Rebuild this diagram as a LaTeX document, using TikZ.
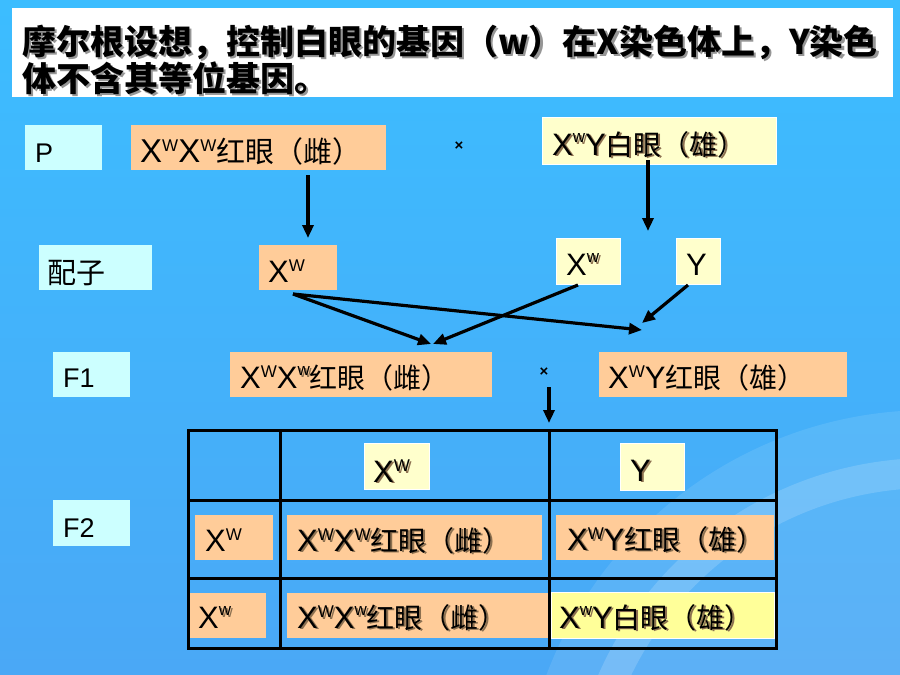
\documentclass[tikz,border=0pt]{standalone}
\usepackage{fontspec}
\setmainfont{Liberation Sans}
\newfontfamily\cjk{Noto Sans CJK SC}
\usetikzlibrary{arrows.meta,calc}
\definecolor{peach}{HTML}{FFCC99}
\definecolor{lcyan}{HTML}{CCFFFF}
\definecolor{lyel}{HTML}{FFFFCC}
\definecolor{byel}{HTML}{FFFF99}
\definecolor{bgtop}{RGB}{60,189,255}
\definecolor{bgbot}{RGB}{74,168,246}
\definecolor{shdc}{RGB}{140,112,80}
\definecolor{tshdc}{RGB}{150,150,150}
\newcommand\supU[1]{\raisebox{0.33em}{\fontsize{17}{17}\selectfont #1}}
\newcommand\supL[1]{\raisebox{0.40em}{\fontsize{17}{17}\selectfont #1}}
\newcommand\shd[1]{\makebox[0pt][l]{\hspace{1.8pt}\raisebox{-1.8pt}{\color{shdc}#1}}#1}
\newcommand\tshd[1]{\makebox[0pt][l]{\hspace{2.5pt}\raisebox{-2.5pt}{\color{tshdc}#1}}#1}
\newcommand\cj[1]{{\cjk\fontsize{28}{30}\selectfont #1}}
\tikzset{
  bx/.style={anchor=north west, inner sep=0pt},
  lbl/.style={anchor=base west, inner sep=0pt, font=\fontsize{31}{34}\selectfont},
  side/.style={anchor=base west, inner sep=0pt, font=\fontsize{27}{30}\selectfont},
  ttl/.style={anchor=base west, inner sep=0pt, font=\cjk\bfseries\fontsize{34}{37}\selectfont},
  arr/.style={line width=3.2pt, -{Triangle[length=13pt,width=11pt]}},
  tbl/.style={line width=3pt},
  cross/.style={inner sep=0pt, font=\bfseries\fontsize{15}{15}\selectfont}
}
\begin{document}
\begin{tikzpicture}[x=1pt,y=-1pt]
\useasboundingbox (0,0) rectangle (900,675);
\fill[top color=bgtop,bottom color=bgbot] (0,0) rectangle (900,675);
\begin{scope}
\clip (0,0) rectangle (900,675);
\fill[white,opacity=0.10] (930,820) circle [radius=410];
\fill[white,opacity=0.16,even odd rule] (930,820) circle [radius=362] (930,820) circle [radius=332];
\end{scope}
% title
\node[bx,fill=white,minimum width=881,minimum height=89] (titlebox) at (12,8) {};
\node[ttl] (t1) at (22,54) {\tshd{摩尔根设想，控制白眼的基因（w）在X染色体上，Y染色}};
\node[ttl] (t2) at (22,91) {\tshd{体不含其等位基因。}};
% P row
\node[bx,fill=lcyan,minimum width=77,minimum height=45] (pb) at (25,125) {};
\node[side] (pt) at (35,162) {P};
\node[bx,fill=peach,minimum width=255,minimum height=45] (pf) at (131,125) {};
\node[anchor=base west,inner sep=0pt,font=\fontsize{33}{36}\selectfont] (pft) at (140,162) {X\supU{W}X\supU{W}{\cjk\fontsize{29}{30}\selectfont 红眼（雌）}};
\node[cross] (x1) at (459,146) {×};
\node[bx,fill=lyel,draw=white,line width=0.8pt,minimum width=234,minimum height=47] (pm) at (542,117) {};
\node[lbl] (pmt) at (552,155) {\shd{X\supL{w}Y\cj{白眼（雄）}}};
% gametes
\node[bx,fill=lcyan,minimum width=113,minimum height=45] (gb) at (39,245) {};
\node[anchor=base west,inner sep=0pt,font=\cjk\fontsize{29}{30}\selectfont] (gt) at (47,283) {配子};
\node[bx,fill=peach,minimum width=78,minimum height=45] (gW) at (259,245) {};
\node[lbl] (gWt) at (268,282) {X\supU{W}};
\node[bx,fill=lyel,draw=white,line width=0.8pt,minimum width=64,minimum height=46] (gw) at (556,238) {};
\node[lbl] (gwt) at (566,275) {X\shd{\supL{w}}};
\node[bx,fill=lyel,draw=white,line width=0.8pt,minimum width=44,minimum height=46] (gY) at (676,238) {};
\node[lbl] (gYt) at (686,275) {Y};
% F1
\node[bx,fill=lcyan,minimum width=77,minimum height=45] (f1b) at (53,352) {};
\node[side] (f1t) at (63,387) {F1};
\node[bx,fill=peach,minimum width=262,minimum height=45] (f1f) at (230,352) {};
\node[lbl] (f1ft) at (240,388) {X\supU{W}X\shd{\supL{w}}\cj{红眼（雌）}};
\node[cross] (x2) at (544,372) {×};
\node[bx,fill=peach,minimum width=248,minimum height=45] (f1m) at (599,352) {};
\node[lbl] (f1mt) at (608,388) {X\supU{W}Y\cj{红眼（雄）}};
% F2 label
\node[bx,fill=lcyan,minimum width=77,minimum height=46] (f2b) at (53,500) {};
\node[side] (f2t) at (63,537) {F2};
% table header
\node[bx,fill=lyel,draw=white,line width=0.8pt,minimum width=65,minimum height=46] (hW) at (364,443) {};
\node[lbl] (hWt) at (373,482) {\shd{X\supU{W}}};
\node[bx,fill=lyel,draw=white,line width=0.8pt,minimum width=64,minimum height=47] (hY) at (620,443) {};
\node[lbl] (hYt) at (630,481) {\shd{Y}};
% row 1
\node[bx,fill=peach,minimum width=78,minimum height=45] (r1l) at (195,515) {};
\node[lbl] (r1lt) at (205,551) {X\supU{W}};
\node[bx,fill=peach,minimum width=255,minimum height=45] (r1m) at (287,515) {};
\node[lbl] (r1mt) at (297,551) {\shd{X\supU{W}X\supU{W}\cj{红眼（雌）}}};
\node[bx,fill=peach,minimum width=218,minimum height=45] (r1r) at (556,515) {};
\node[lbl] (r1rt) at (567,550) {\shd{X\supU{W}Y\cj{红眼（雄）}}};
% row 2
\node[bx,fill=peach,minimum width=77,minimum height=45] (r2l) at (189,593) {};
\node[lbl] (r2lt) at (198,628) {X\shd{\supL{w}}};
\node[bx,fill=peach,minimum width=261,minimum height=45] (r2m) at (287,593) {};
\node[lbl] (r2mt) at (297,628) {\shd{X\supU{W}X\supL{w}\cj{红眼（雌）}}};
\node[bx,fill=byel,draw=white,line width=1.2pt,minimum width=223,minimum height=46] (r2r) at (551,592) {};
\node[lbl] (r2rt) at (559,628) {\shd{X\supL{w}Y\cj{白眼（雄）}}};
% table grid
\draw[tbl] (188,430) rectangle (776,648);
\draw[tbl] (280,430) -- (280,648);
\draw[tbl] (549,430) -- (549,648);
\draw[tbl] (188,500) -- (776,500);
\draw[tbl] (188,578) -- (776,578);
% arrows
\coordinate (a1s) at (308,175); \coordinate (a1e) at (308,238);
\coordinate (a2s) at (648,160); \coordinate (a2e) at (648,231);
\coordinate (gWo) at (293,294);
\coordinate (f1fin) at (431,344); \coordinate (f1min) at (642,330);
\coordinate (gwo) at (578,285); \coordinate (f1fin2) at (433,344);
\coordinate (gYo) at (688,285); \coordinate (f1min2) at (642,323);
\coordinate (a7s) at (549,387); \coordinate (a7e) at (549,423);
\draw[arr] (a1s) -- (a1e);
\draw[arr] (a2s) -- (a2e);
\draw[arr] (gWo) -- (f1fin);
\draw[arr] (gWo) -- (f1min);
\draw[arr] (gwo) -- (f1fin2);
\draw[arr] (gYo) -- (f1min2);
\draw[arr] (a7s) -- (a7e);
\end{tikzpicture}
\end{document}
